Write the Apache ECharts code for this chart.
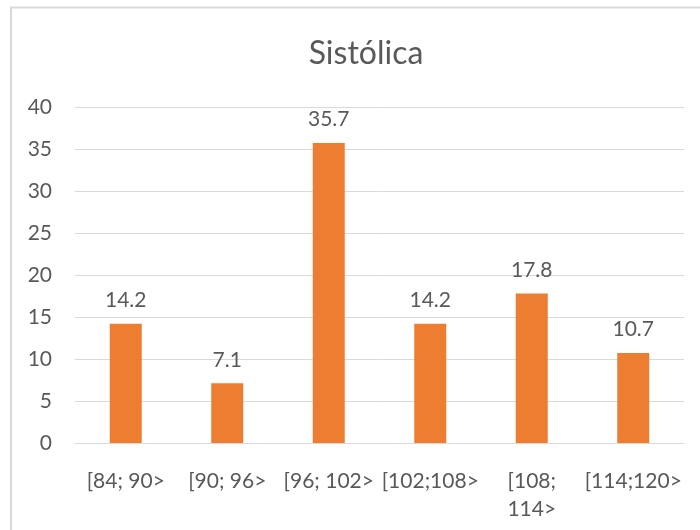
<!DOCTYPE html>
<html>
<head>
<meta charset="utf-8">
<script src="https://cdn.jsdelivr.net/npm/echarts@6/dist/echarts.min.js"></script>
<style>
  html, body { margin: 0; padding: 0; background: #fff; }
  #chart { width: 700px; height: 530px; }
</style>
</head>
<body>
<div id="chart"></div>
<script>
// Systolic pressure ranges and their share (%)
const categories = ['[84; 90>', '[90; 96>', '[96; 102>', '[102;108>', '[108; 114>', '[114;120>'];
const values = [14.2, 7.1, 35.7, 14.2, 17.8, 10.7];
const yTicks = [0, 5, 10, 15, 20, 25, 30, 35, 40];

const textColor = '#595959';
const fontFamily = 'Lato, "Open Sans", sans-serif';

const chart = echarts.init(document.getElementById('chart'), null, { renderer: 'canvas' });

chart.setOption({
  animation: false,
  backgroundColor: '#fff',
  title: {
    text: 'Sistólica',
    left: 361,
    top: 33,
    textAlign: 'center',
    textStyle: { fontFamily, fontSize: 32, fontWeight: 'normal', color: textColor }
  },
  graphic: [{
    type: 'rect',
    shape: { x: 11, y: 7.5, width: 720, height: 560 },
    style: { fill: 'none', stroke: '#d9d9d9', lineWidth: 2 },
    silent: true,
    z: -1
  }],
  grid: { left: 75, right: 16, top: 107, bottom: 87 },
  xAxis: {
    type: 'category',
    data: categories,
    axisLine: { lineStyle: { color: '#d9d9d9', width: 1 } },
    axisTick: { show: false },
    axisLabel: {
      color: textColor,
      fontFamily,
      fontSize: 21,
      lineHeight: 28,
      margin: 24,
      interval: 0,
      formatter: v => (v.length > 9 ? v.replace('; ', ';\n') : v)
    }
  },
  yAxis: {
    type: 'value',
    min: yTicks[0],
    max: yTicks[yTicks.length - 1],
    interval: yTicks[1] - yTicks[0],
    axisLine: { show: false },
    axisTick: { show: false },
    splitLine: { lineStyle: { color: '#d9d9d9', width: 1 } },
    axisLabel: { color: textColor, fontFamily, fontSize: 21, margin: 23 }
  },
  series: [{
    type: 'bar',
    data: values,
    barWidth: 32,
    itemStyle: { color: '#ED7D31' },
    label: {
      show: true,
      position: 'top',
      distance: 13,
      color: textColor,
      fontFamily,
      fontSize: 21,
      formatter: p => p.value.toFixed(1)
    }
  }]
});
</script>
</body>
</html>
